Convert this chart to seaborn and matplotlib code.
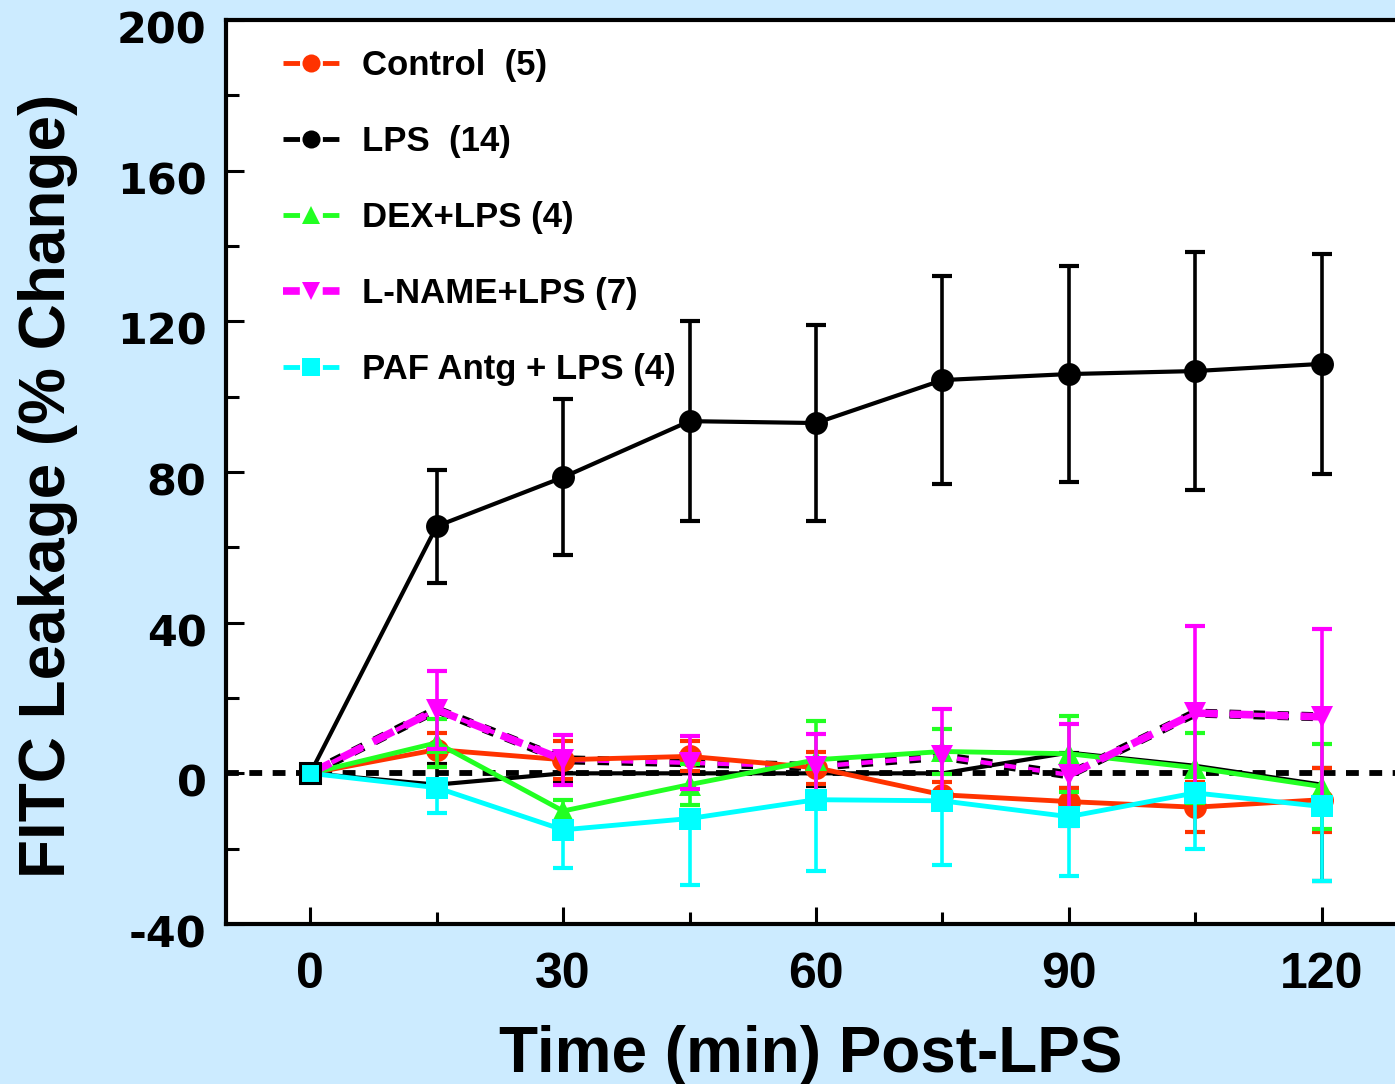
import numpy as np
import matplotlib.pyplot as plt
import matplotlib.patheffects as pe
from matplotlib.lines import Line2D
from matplotlib.ticker import MultipleLocator
from matplotlib.transforms import ScaledTranslation
import seaborn as sns

# time points (min post-LPS)
time = [0, 15, 30, 45, 60, 75, 90, 105, 120]

# group means and SEM (% change)
control = [0, 6.3, 3.6, 4.5, 1.5, -5.7, -7.5, -9.0, -7.0]
control_err = [0, 4.5, 5.0, 4.0, 4.2, 3.5, 3.5, 6.7, 8.5]
lps = [0, 65.6, 78.6, 93.5, 93.0, 104.4, 106.0, 106.8, 108.7]
lps_err = [0, 15.0, 20.7, 26.5, 26.0, 27.6, 28.7, 31.7, 29.2]
dex = [0, 8.1, -10.0, -3.0, 3.6, 5.8, 5.2, 1.5, -3.5]
dex_err = [0, 6.3, 3.0, 5.5, 10.4, 6.1, 10.1, 9.3, 11.4]
lname = [0, 16.9, 3.6, 2.8, 1.8, 4.5, -0.4, 16.0, 15.0]
lname_err = [0, 10.4, 6.7, 7.0, 8.7, 12.7, 13.6, 23.0, 23.2]
paf = [0, -3.8, -15.0, -12.0, -7.0, -7.3, -11.5, -5.2, -8.8]
paf_err = [0, 6.7, 10.0, 17.6, 19.0, 17.0, 15.7, 15.0, 19.7]

# leftover black trace sitting under the others near zero
under = [0, -3.0, 0, 0, 0, 0, 5.5, 2.0, -3.0]
under_lo = [0, 0, 2.4, 0, 3.3, 0, 9.3, 0, 25.5]
under_hi = [0, 5.6, 0, 0, 0, 0, 0, 0, 4.5]

labels = ['Control  (5)', 'LPS  (14)', 'DEX+LPS (4)', 'L-NAME+LPS (7)', 'PAF Antg + LPS (4)']
colors = ['#FF3300', 'black', '#22FF22', '#FF00FF', '#00FFFF']
markers = ['o', 'o', '^', 'v', 's']

sns.set_theme(style='ticks')
plt.rcParams['font.family'] = ['Liberation Sans', 'DejaVu Sans']
plt.rcParams['font.weight'] = 'bold'
plt.rcParams['text.color'] = 'black'
plt.rcParams['axes.unicode_minus'] = False

fig = plt.figure(figsize=(13.95, 10.84), dpi=100, facecolor='#CCEBFF')
ax = fig.add_axes([226 / 1395, 160 / 1084, (1448 - 226) / 1395, 904 / 1084])
ax.set_facecolor('white')

t = np.array(time)
ms = 16.5
cap = 7.5
elw = 2.6

# under trace
sns.lineplot(x=time, y=under, color='black', linewidth=3, ax=ax, zorder=2)
idx = [1, 2, 4, 6, 8]
ax.errorbar(t[idx], np.array(under)[idx],
            yerr=[np.array(under_lo)[idx], np.array(under_hi)[idx]],
            fmt='none', ecolor='black', elinewidth=elw, capsize=cap, capthick=3, zorder=2)

# outlined magenta dashes (full series)
sns.lineplot(x=time, y=lname, color='#FF00FF', linewidth=3.2, ax=ax, zorder=2.2,
             dashes=False, linestyle=(0, (2.6, 2.8)),
             path_effects=[pe.Stroke(linewidth=6.5, foreground='black'), pe.Normal()])

# zero reference
ax.axhline(0, color='black', linewidth=4.2, linestyle=(0, (2.2, 1.8)), zorder=2.5)

# LPS
ax.errorbar(time[1:], lps[1:], yerr=lps_err[1:], fmt='none', ecolor='black',
            elinewidth=elw, capsize=cap, capthick=3, zorder=3)
sns.lineplot(x=time, y=lps, color='black', linewidth=3, marker='o', markersize=ms,
             markeredgewidth=0, ax=ax, zorder=3.1)

# Control
ax.errorbar(time[1:], control[1:], yerr=control_err[1:], fmt='none', ecolor=colors[0],
            elinewidth=elw, capsize=cap, capthick=3, zorder=3.2)
sns.lineplot(x=time, y=control, color=colors[0], linewidth=3.5, marker='o', markersize=ms,
             markeredgewidth=0, ax=ax, zorder=3.3)

# DEX
ax.errorbar(time[1:], dex[1:], yerr=dex_err[1:], fmt='none', ecolor=colors[2],
            elinewidth=elw, capsize=cap, capthick=3, zorder=3.4)
sns.lineplot(x=time, y=dex, color=colors[2], linewidth=3.5, marker='^', markersize=ms,
             markeredgewidth=0, ax=ax, zorder=3.5)

# L-NAME: thick bright dashes on the early and late parts
ax.errorbar(time[1:], lname[1:], yerr=lname_err[1:], fmt='none', ecolor=colors[3],
            elinewidth=elw, capsize=cap, capthick=3, zorder=3.6)
for sl in (slice(0, 3), slice(6, 9)):
    sns.lineplot(x=time[sl], y=lname[sl], color=colors[3], linewidth=5.5,
                 linestyle=(0, (3, 1.6)), ax=ax, zorder=3.7)
sns.lineplot(x=time, y=lname, color=colors[3], linewidth=0, marker='v', markersize=ms,
             markeredgewidth=0, ax=ax, zorder=3.75)

# PAF antagonist (lower bars only)
ax.errorbar(time[1:], paf[1:], yerr=[paf_err[1:], [0] * 8], fmt='none', ecolor=colors[4],
            elinewidth=elw, capsize=cap, capthick=3, zorder=3.8)
sns.lineplot(x=time, y=paf, color=colors[4], linewidth=3.5, marker='s', markersize=ms - 1,
             markeredgewidth=0, ax=ax, zorder=3.9)
ax.plot(time[0], paf[0], marker='s', markersize=ms - 2, color=colors[4],
        markeredgecolor='black', markeredgewidth=2.2, zorder=4)

ax.set_xlim(-10, 135)
ax.set_ylim(-40, 200)
ax.xaxis.set_major_locator(MultipleLocator(30))
ax.xaxis.set_minor_locator(MultipleLocator(15))
ax.yaxis.set_major_locator(MultipleLocator(40))
ax.yaxis.set_minor_locator(MultipleLocator(20))
ax.set_xlabel('')
ax.set_ylabel('')

for s in ax.spines.values():
    s.set_linewidth(3)
    s.set_color('black')
ax.tick_params(axis='both', which='both', direction='in', width=2.2, colors='black',
               top=False, right=False)
ax.tick_params(axis='x', which='major', length=12, pad=20, labelsize=36)
ax.tick_params(axis='x', which='minor', length=8.5)
ax.tick_params(axis='y', which='major', length=13, pad=14, labelsize=31)
ax.tick_params(axis='y', which='minor', length=9.5)
for lbl in ax.get_xticklabels():
    lbl.set_fontweight('bold')
shift = ScaledTranslation(0, -7 / 100, fig.dpi_scale_trans)
for tk in ax.yaxis.get_major_ticks():
    tk.label1.set_fontfamily('DejaVu Sans')
    tk.label1.set_fontweight('heavy')
    tk.label1.set_transform(tk.label1.get_transform() + shift)

fig.text(811 / 1395, 1 - 1072 / 1084, 'Time (min) Post-LPS', ha='center', va='baseline',
         fontsize=46, fontweight='bold')
fig.text(65 / 1395, 1 - 486 / 1084, 'FITC Leakage (% Change)', ha='center', va='baseline',
         rotation=90, rotation_mode='anchor', fontsize=46, fontweight='bold')

handles = []
for c, m in zip(colors, markers):
    if c == '#FF00FF':
        h = Line2D([0], [0], color=c, lw=5.5, ls=(0, (2.2, 3.0)), marker=m,
                   markersize=13, markeredgewidth=0)
    else:
        h = Line2D([0], [0], color=c, lw=3.5, ls=(0, (3.4, 4.7)), marker=m,
                   markersize=13, markeredgewidth=0)
    handles.append(h)
ax.legend(handles, labels, loc='upper left', bbox_to_anchor=(283 / 1395, 1 - 49 / 1084),
          bbox_transform=fig.transFigure, frameon=False, borderpad=0, borderaxespad=0,
          handlelength=1.64, handletextpad=0.63, labelspacing=1.24,
          prop={'size': 25, 'weight': 'bold'})

fig.savefig('out.png', dpi=100, facecolor=fig.get_facecolor())
